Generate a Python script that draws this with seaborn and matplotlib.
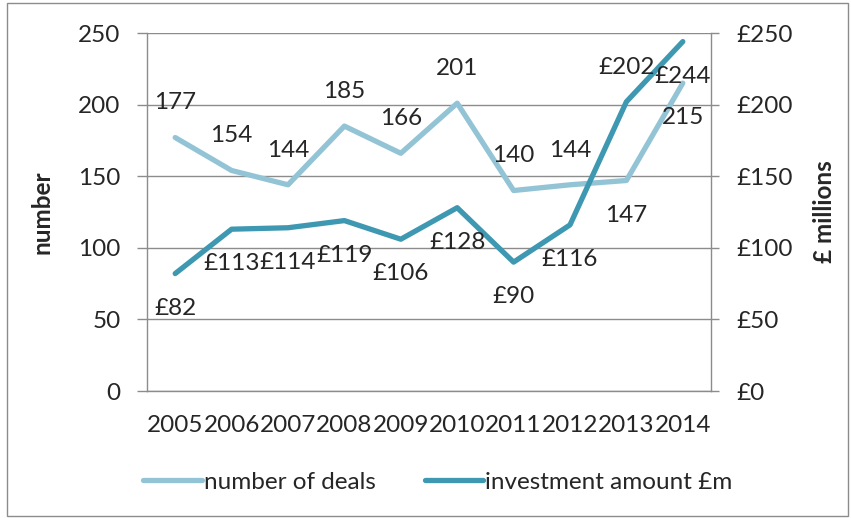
import pandas as pd
import matplotlib.pyplot as plt
import matplotlib.patches as mpatches
import seaborn as sns

years = [2005, 2006, 2007, 2008, 2009, 2010, 2011, 2012, 2013, 2014]
deals = [177, 154, 144, 185, 166, 201, 140, 144, 147, 215]
investment = [82, 113, 114, 119, 106, 128, 90, 116, 202, 244]

# label offsets (points): + above, - below
deal_offsets = [25, 25, 25, 25, 25, 25, 25, 25, -25, -25]
inv_offsets = [-25, -25, -25, -25, -25, -25, -25, -25, 25, -25]

sns.set_style("white")
plt.rcParams['font.family'] = ['Lato', 'DejaVu Sans']
fs = 17.5
plt.rcParams['font.size'] = fs

light = "#93c4d6"
dark = "#3e98b1"
grey = "#8c8c8c"

df = pd.DataFrame({"year": years, "deals": deals, "investment": investment})

fig = plt.figure(figsize=(8.51, 5.18), dpi=100)
ax = fig.add_axes([147 / 851, 1 - 391 / 518, 564 / 851, 358 / 518])
ax2 = ax.twinx()

sns.lineplot(data=df, x="year", y="deals", ax=ax, color=light, lw=3.8,
             label="number of deals", legend=False, solid_capstyle="round")
sns.lineplot(data=df, x="year", y="investment", ax=ax2, color=dark, lw=3.8,
             label="investment amount £m", legend=False, solid_capstyle="round")

for yr, v, off in zip(years, deals, deal_offsets):
    ax.annotate(f"{v}", (yr, v), xytext=(0, off), textcoords="offset points",
                ha="center", va="center", fontsize=fs)
for yr, v, off in zip(years, investment, inv_offsets):
    ax2.annotate(f"£{v}", (yr, v), xytext=(0, off), textcoords="offset points",
                 ha="center", va="center", fontsize=fs)

for a in (ax, ax2):
    a.set_ylim(0, 250)
    a.set_yticks(range(0, 251, 50))
    a.set_xlim(2004.5, 2014.5)
    a.set_xlabel("")

ax.set_xticks(years)
ax.set_xticklabels([str(y) for y in years])
ax.set_xticks([y + 0.5 for y in [2004] + years], minor=True)
ax.tick_params(axis="x", which="major", length=0, pad=17, labelsize=fs)
ax.tick_params(axis="x", which="minor", length=6, width=1, color=grey, direction="out")
ax.tick_params(axis="y", length=7, width=1, color=grey, direction="out", pad=12, labelsize=fs)
ax2.tick_params(axis="y", length=6, width=1, color=grey, direction="out", pad=12, labelsize=fs)
ax2.set_yticklabels([f"£{v}" for v in range(0, 251, 50)])

ax.yaxis.grid(True, color=grey, lw=1)
ax.set_axisbelow(True)

for a in (ax, ax2):
    for s in a.spines.values():
        s.set_visible(False)
ax.spines["left"].set_visible(True)
ax.spines["bottom"].set_visible(True)
ax2.spines["right"].set_visible(True)
for s in (ax.spines["left"], ax.spines["bottom"], ax2.spines["right"]):
    s.set_color(grey)
    s.set_linewidth(1)

ax.set_ylabel("number", fontweight="bold", fontsize=fs)
ax.yaxis.set_label_coords(-0.165, 0.5)
ax2.set_ylabel("£ millions", fontweight="bold", fontsize=fs, rotation=90)
ax2.yaxis.set_label_coords(1.181, 0.5)

h1, l1 = ax.get_legend_handles_labels()
h2, l2 = ax2.get_legend_handles_labels()
fig.legend(h1 + h2, l1 + l2, loc="center", bbox_to_anchor=(438 / 851, 1 - 482 / 518),
           ncol=2, frameon=False, fontsize=fs, handlelength=2.4,
           handletextpad=0.1, columnspacing=2.0)

fig.patches.append(mpatches.Rectangle((7 / 851, 2 / 518), 841 / 851, 513 / 518,
                                      transform=fig.transFigure, fill=False,
                                      edgecolor=grey, lw=1))

fig.savefig("out.png", dpi=100)
plt.close(fig)
